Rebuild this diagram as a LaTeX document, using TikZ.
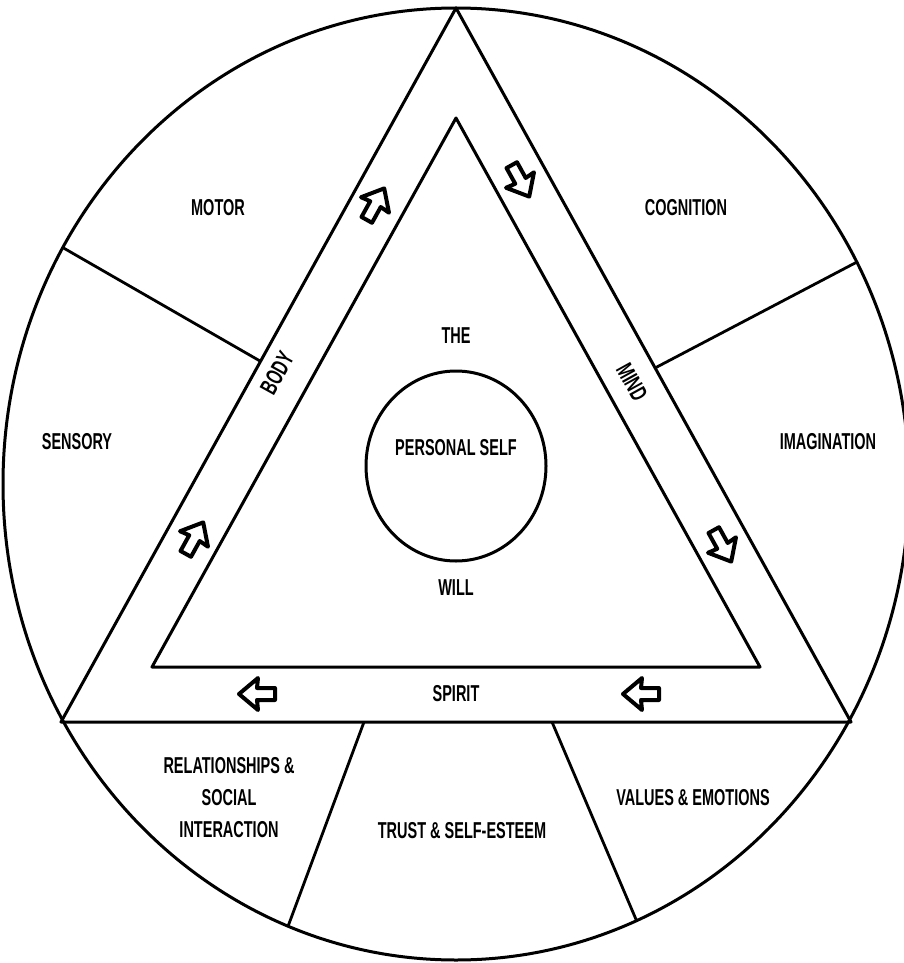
\documentclass[tikz,border=0pt]{standalone}
\usepackage{fontspec}
\setmainfont{Liberation Sans}[FakeStretch=0.63]
\usetikzlibrary{positioning,calc}
\tikzset{
    ringline/.style={line width=1.5pt, line join=round},
    divider/.style={line width=1.4pt},
    zonelabel/.style={
        font=\fontsize{11.5}{16}\selectfont\bfseries,
        align=center, inner sep=0pt
    },
    bandlabel/.style={
        font=\fontsize{12}{12}\selectfont\bfseries,
        inner sep=0pt
    },
    flowarrow/.pic={
        \draw[line width=2pt, line join=round, fill=white]
            (19,0) -- (0,16) -- (1,6) -- (-17,6) -- (-17,-6) -- (1,-6) -- (0,-16) -- cycle;
    },
}

\begin{document}
\begin{tikzpicture}[x=0.5pt, y=-0.5pt]
    \useasboundingbox (0,0) rectangle (904,963);

    % corners of the two triangles
    \coordinate (top) at (456,8);
    \coordinate (botleft) at (61,722);
    \coordinate (botright) at (851,722);
    \coordinate (intop) at (456,118);
    \coordinate (inleft) at (152,667);
    \coordinate (inright) at (760,667);

    % ends of the dividers
    \coordinate (d1a) at (260,361);  \coordinate (d1b) at (34,231);
    \coordinate (d2a) at (655,368);  \coordinate (d2b) at (897,241);
    \coordinate (d3a) at (364,722);  \coordinate (d3b) at (274,964);
    \coordinate (d4a) at (552,722);  \coordinate (d4b) at (655,964);

    \begin{scope}
        \clip (456,484) ellipse [x radius=453, y radius=476];
        \draw[divider] (d1a) -- (d1b);
        \draw[divider] (d2a) -- (d2b);
        \draw[divider] (d3a) -- (d3b);
        \draw[divider] (d4a) -- (d4b);
    \end{scope}
    \draw[ringline] (456,484) ellipse [x radius=453, y radius=476];

    \draw[ringline] (top) -- (botright) -- (botleft) -- cycle;
    \draw[ringline] (intop) -- (inright) -- (inleft) -- cycle;
    \draw[ringline] (456,466) ellipse [x radius=90, y radius=95];

    % arrows round the band
    \pic[rotate=61] at (375,205) {flowarrow};
    \pic[rotate=61] at (194,539) {flowarrow};
    \pic[rotate=-61] at (520,180) {flowarrow};
    \pic[rotate=-61] at (722,545) {flowarrow};
    \pic[rotate=180] at (642,694) {flowarrow};
    \pic[rotate=180] at (258,694) {flowarrow};

    % outer zones
    \node[zonelabel] (motor) at (218,208) {MOTOR};
    \node[zonelabel] (cognition) at (686,208) {COGNITION};
    \node[zonelabel] (sensory) at (77,442) {SENSORY};
    \node[zonelabel] (imagination) at (828,442) {IMAGINATION};
    \node[zonelabel] (relations) at (229,798) {RELATIONSHIPS \&\\SOCIAL\\INTERACTION};
    \node[zonelabel] (trust) at (462,831) {TRUST \& SELF-ESTEEM};
    \node[zonelabel] (values) at (693,798) {VALUES \& EMOTIONS};

    % band and centre
    \node[bandlabel, rotate=61] (body) at (277,373) {BODY};
    \node[bandlabel, rotate=-61] (mind) at (632,382) {MIND};
    \node[zonelabel] (spirit) at (456,694) {SPIRIT};
    \node[zonelabel] (the) at (456,336) {THE};
    \node[zonelabel] (self) at (456,448) {PERSONAL SELF};
    \node[zonelabel] (will) at (456,588) {WILL};
\end{tikzpicture}
\end{document}
